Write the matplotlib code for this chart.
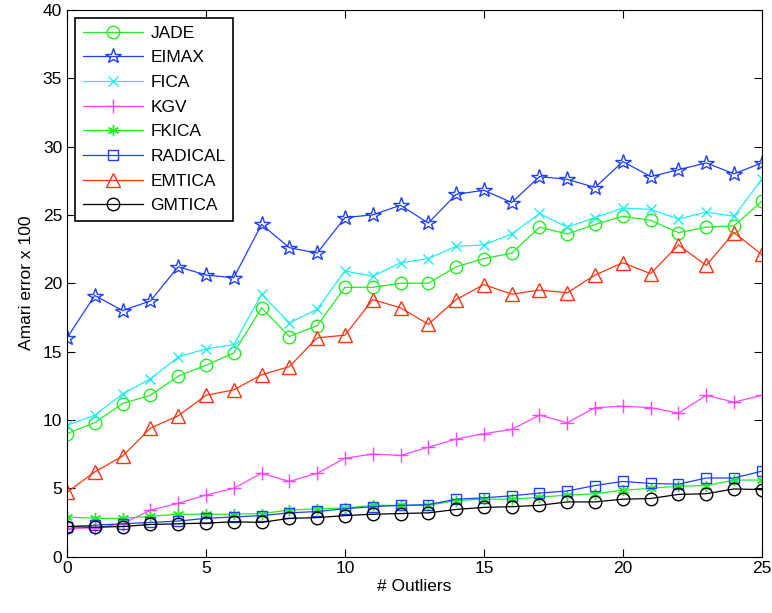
import numpy as np
import matplotlib
matplotlib.use("Agg")
import matplotlib.pyplot as plt

plt.rcParams["font.family"] = ["Liberation Sans", "DejaVu Sans"]

outliers = np.arange(26)

jade = [9.0, 9.8, 11.2, 11.8, 13.2, 14.0, 14.9, 18.2, 16.1, 16.9, 19.7, 19.7, 20.0,
        20.0, 21.2, 21.8, 22.2, 24.1, 23.6, 24.3, 24.9, 24.6, 23.7, 24.1, 24.2, 26.0]
eimax = [16.0, 19.1, 18.0, 18.7, 21.2, 20.6, 20.4, 24.3, 22.6, 22.2, 24.8, 25.0, 25.7,
         24.4, 26.5, 26.8, 25.9, 27.8, 27.6, 27.0, 28.9, 27.8, 28.3, 28.8, 28.0, 28.8]
fica = [9.6, 10.35, 11.9, 13.0, 14.6, 15.2, 15.5, 19.2, 17.1, 18.1, 20.9, 20.5, 21.5,
        21.8, 22.7, 22.8, 23.6, 25.1, 24.1, 24.8, 25.5, 25.4, 24.7, 25.2, 24.9, 27.6]
kgv = [2.05, 2.1, 2.4, 3.4, 3.9, 4.5, 5.0, 6.1, 5.5, 6.1, 7.2, 7.5, 7.4,
       8.0, 8.6, 9.0, 9.3, 10.35, 9.8, 10.9, 11.0, 10.9, 10.5, 11.8, 11.3, 11.8]
fkica = [2.9, 2.8, 2.8, 2.95, 3.1, 3.1, 3.1, 3.15, 3.4, 3.5, 3.55, 3.75, 3.75,
         3.75, 4.1, 4.2, 4.2, 4.35, 4.5, 4.6, 4.85, 5.0, 5.15, 5.2, 5.6, 5.6]
radical = [2.2, 2.3, 2.4, 2.5, 2.6, 2.8, 2.9, 3.0, 3.2, 3.3, 3.5, 3.65, 3.75,
           3.8, 4.2, 4.3, 4.45, 4.65, 4.8, 5.2, 5.5, 5.35, 5.3, 5.75, 5.75, 6.25]
emtica = [4.7, 6.2, 7.35, 9.4, 10.3, 11.8, 12.2, 13.3, 13.9, 16.0, 16.2, 18.8, 18.2,
          17.0, 18.8, 19.9, 19.2, 19.5, 19.3, 20.6, 21.5, 20.7, 22.8, 21.3, 23.7, 22.1]
gmtica = [2.2, 2.15, 2.2, 2.35, 2.4, 2.45, 2.55, 2.5, 2.8, 2.85, 3.0, 3.1, 3.15,
          3.2, 3.45, 3.6, 3.65, 3.75, 4.0, 4.0, 4.2, 4.25, 4.55, 4.6, 4.95, 4.9]

fig = plt.figure(figsize=(7.72, 6.13), dpi=100)
ax = fig.add_axes([0.0868, 0.092, 0.9, 0.892])

style = dict(linewidth=0.9, markerfacecolor="none")
ax.plot(outliers, jade, "-o", color="#22ee22", markersize=9, label="JADE", **style)
ax.plot(outliers, eimax, "-*", color="#1f3fff", markersize=11.5, label="EIMAX", **style)
ax.plot(outliers, fica, "-x", color="#22eeee", markersize=7, label="FICA", **style)
ax.plot(outliers, kgv, "-+", color="#ff44ff", markersize=10, label="KGV", **style)
ax.plot(outliers, fkica, "-", marker=(6, 2, 0), color="#22ee22", markersize=8, label="FKICA", **style)
ax.plot(outliers, radical, "-s", color="#1f3fff", markersize=7.5, label="RADICAL", **style)
ax.plot(outliers, emtica, "-^", color="#ff3311", markersize=10.5, label="EMTICA", **style)
ax.plot(outliers, gmtica, "-o", color="black", markersize=9, label="GMTICA", **style)

ax.set_xlim(0, 25)
ax.set_ylim(0, 40)
ax.set_xticks([0, 5, 10, 15, 20, 25])
ax.set_yticks(np.arange(0, 41, 5))
ax.tick_params(direction="in", top=True, right=True, labelsize=12.5, length=6)
ax.set_xlabel("# Outliers", fontsize=12.5, labelpad=2)
ax.set_ylabel("Amari error x 100", fontsize=12.5, labelpad=6)

leg = ax.legend(loc="upper left", fontsize=12.5, handlelength=3.5, labelspacing=0.55,
                borderaxespad=0.45, fancybox=False, framealpha=1, edgecolor="black",
                borderpad=0.45, handletextpad=0.4)
leg.get_frame().set_linewidth(1.2)

fig.savefig("out.png", dpi=100)
